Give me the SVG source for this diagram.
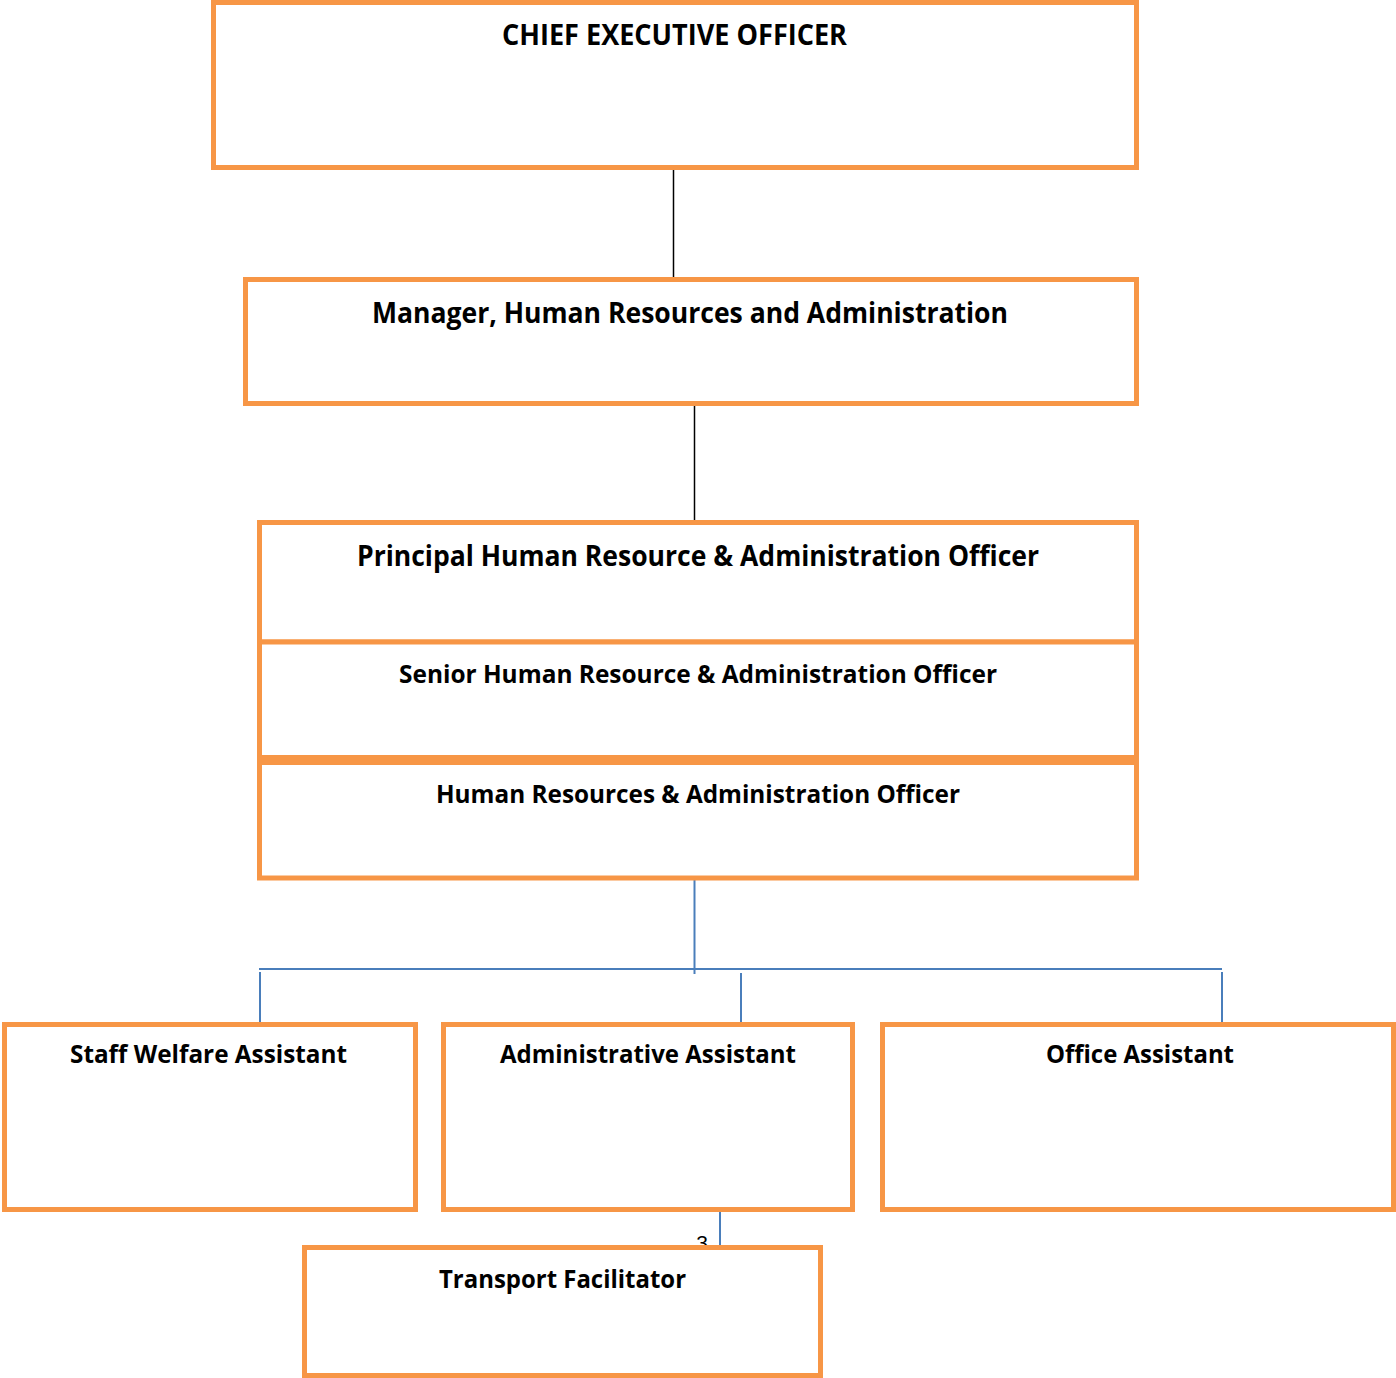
<svg xmlns="http://www.w3.org/2000/svg" width="1396" height="1378" viewBox="0 0 1396 1378">
<style>
.box{fill:#fff;stroke:#F79646;stroke-width:5}
.t{font-family:"Open Sans","Liberation Sans",sans-serif;font-weight:bold;fill:#000;text-anchor:middle}
.big{font-size:28px}
.sm{font-size:25px}
.blk{stroke:#000;stroke-width:1.5;fill:none}
.blu{stroke:#4A7EBB;stroke-width:2;fill:none}
</style>
<rect width="1396" height="1378" fill="#fff"/>
<g id="connectors">
<line class="blk" x1="673.5" y1="168" x2="673.5" y2="278"/>
<line class="blk" x1="694.5" y1="405" x2="694.5" y2="521"/>
<line class="blu" x1="694.5" y1="879" x2="694.5" y2="974"/>
<line class="blu" x1="259" y1="969" x2="1222" y2="969"/>
<line class="blu" x1="260" y1="972" x2="260" y2="1024"/>
<line class="blu" x1="741" y1="973" x2="741" y2="1024"/>
<line class="blu" x1="1222" y1="972" x2="1222" y2="1024"/>
<line class="blu" x1="720" y1="1210" x2="720" y2="1247"/>
</g>
<text x="702" y="1250" style="font-family:'Liberation Sans',sans-serif;font-size:21px;text-anchor:middle;fill:#000">3</text>
<g id="ceo">
<rect class="box" x="213.5" y="2.5" width="923" height="165"/>
<text class="t big" x="674.5" y="45" textLength="345" lengthAdjust="spacingAndGlyphs">CHIEF EXECUTIVE OFFICER</text>
</g>
<g id="manager">
<rect class="box" x="245.5" y="279.5" width="891" height="124"/>
<text class="t big" x="690" y="323" textLength="636" lengthAdjust="spacingAndGlyphs">Manager, Human Resources and Administration</text>
</g>
<g id="principal">
<rect class="box" x="259.5" y="522.5" width="877" height="119.5"/>
<text class="t big" x="698" y="566" textLength="682" lengthAdjust="spacingAndGlyphs">Principal Human Resource &amp; Administration Officer</text>
</g>
<g id="senior">
<rect class="box" x="259.5" y="642" width="877" height="115.5"/>
<text class="t sm" x="698" y="683" textLength="598" lengthAdjust="spacingAndGlyphs">Senior Human Resource &amp; Administration Officer</text>
</g>
<g id="hr-officer">
<rect class="box" x="259.5" y="762.5" width="877" height="115.5"/>
<text class="t sm" x="698" y="803" textLength="524" lengthAdjust="spacingAndGlyphs">Human Resources &amp; Administration Officer</text>
</g>
<g id="staff-welfare">
<rect class="box" x="4.5" y="1024.5" width="411" height="185"/>
<text class="t sm" x="208.5" y="1063" textLength="277" lengthAdjust="spacingAndGlyphs">Staff Welfare Assistant</text>
</g>
<g id="admin-assistant">
<rect class="box" x="443.5" y="1024.5" width="409" height="185"/>
<text class="t sm" x="648" y="1063" textLength="296" lengthAdjust="spacingAndGlyphs">Administrative Assistant</text>
</g>
<g id="office-assistant">
<rect class="box" x="882.5" y="1024.5" width="511" height="185"/>
<text class="t sm" x="1140" y="1063" textLength="188" lengthAdjust="spacingAndGlyphs">Office Assistant</text>
</g>
<g id="transport">
<rect class="box" x="304.5" y="1247.5" width="516" height="128"/>
<text class="t sm" x="562.5" y="1288" textLength="247" lengthAdjust="spacingAndGlyphs">Transport Facilitator</text>
</g>
</svg>
